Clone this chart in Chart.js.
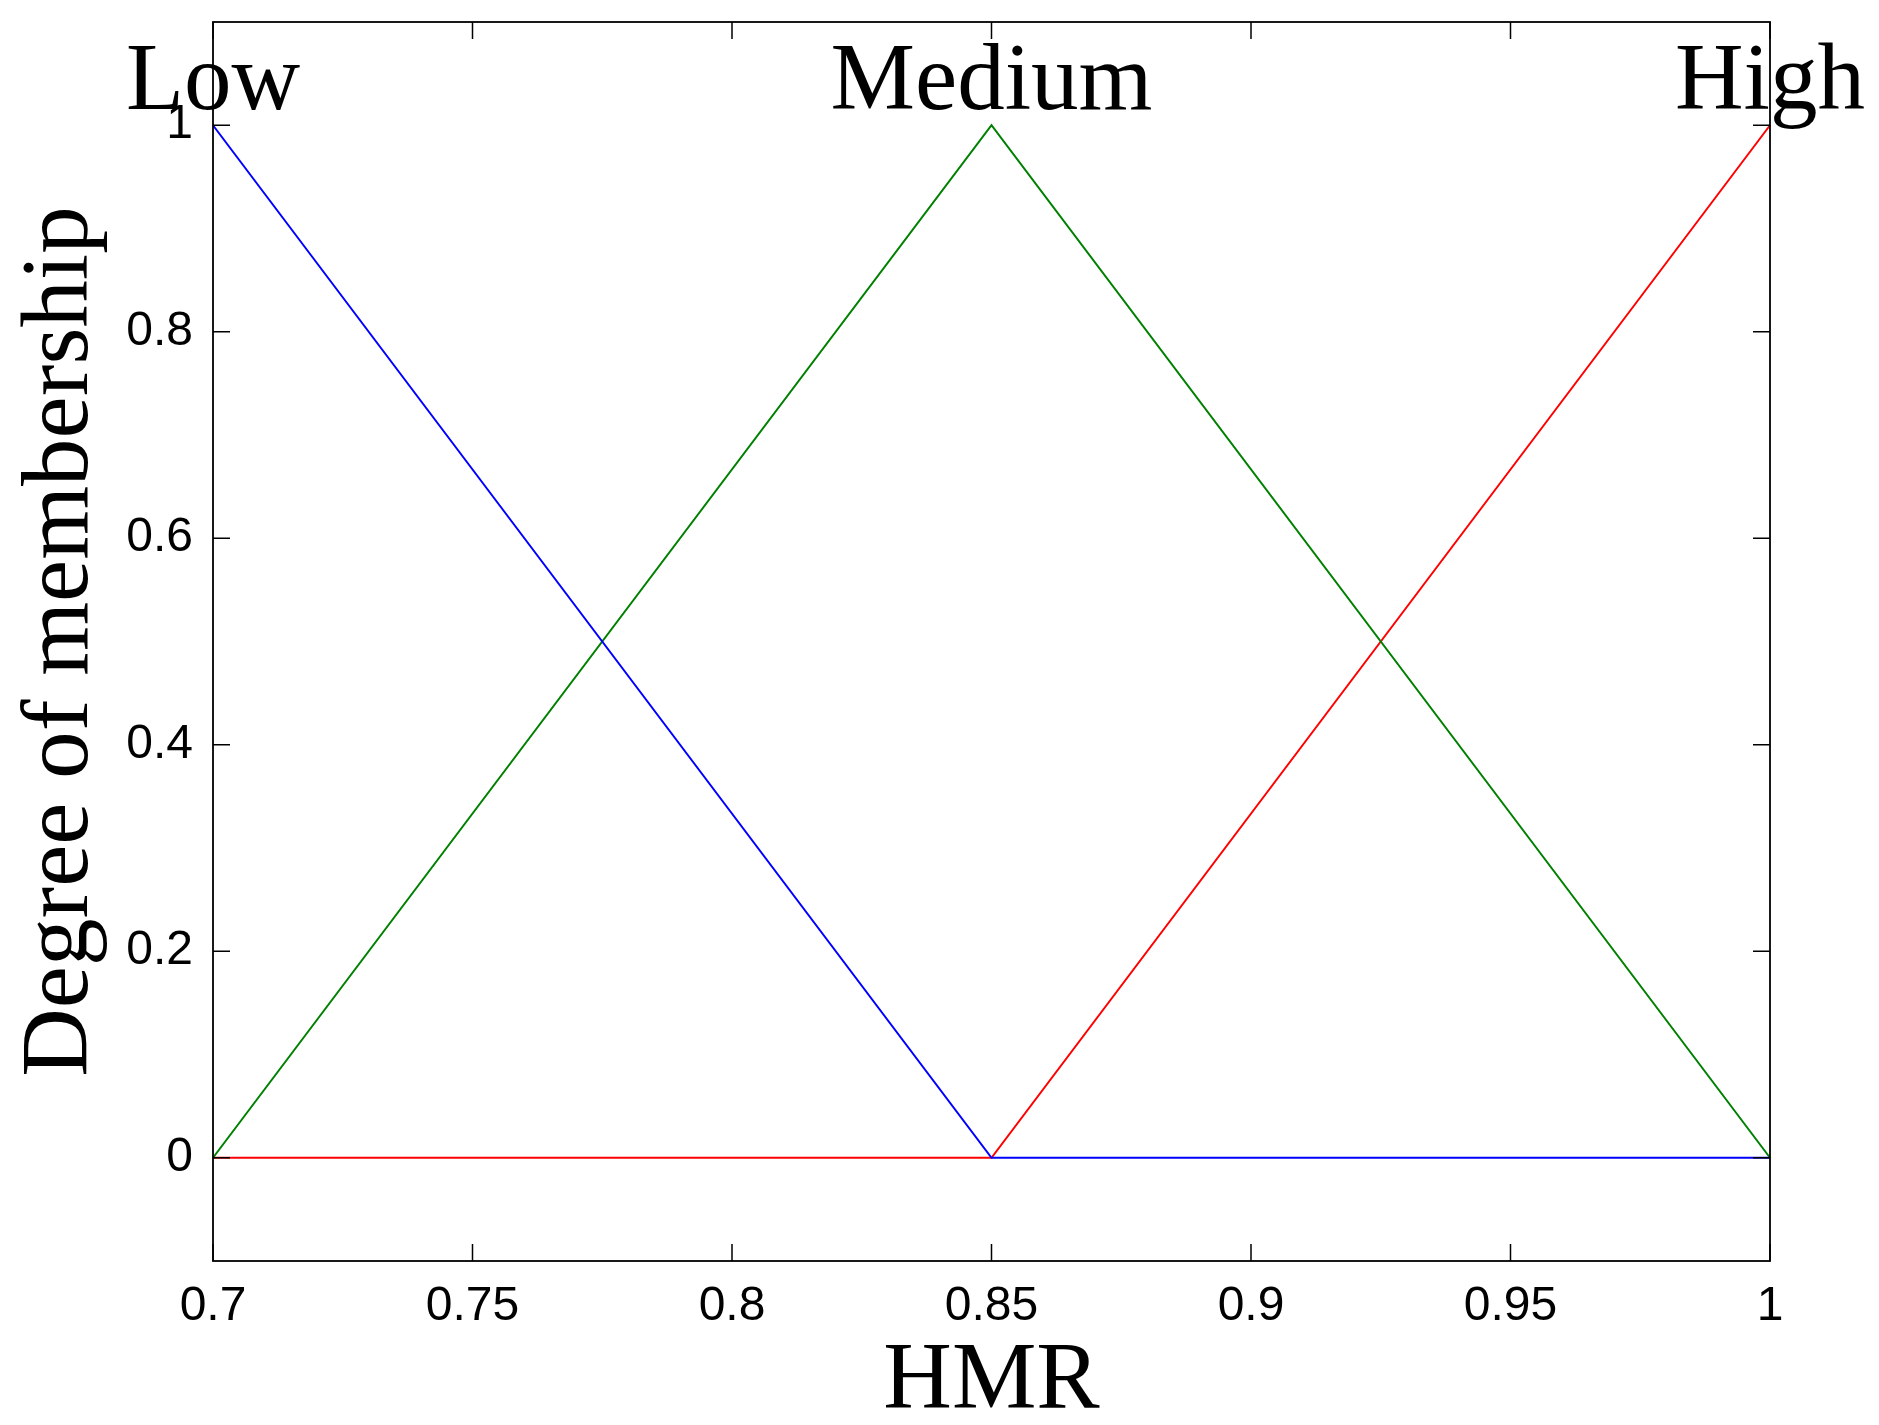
<!DOCTYPE html>
<html>
<head>
<meta charset="utf-8">
<script src="https://cdn.jsdelivr.net/npm/chart.js@4"></script>
<style>
  html, body { margin: 0; padding: 0; background: #fff; }
  #wrap { width: 1879px; height: 1425px; position: relative; }
</style>
</head>
<body>
<div id="wrap"><canvas id="mfChart"></canvas></div>
<script>
// membership function vertices (HMR input)
const xPoints = [0.7, 0.85, 1];
const lowMf = [1, 0, 0];
const mediumMf = [0, 1, 0];
const highMf = [0, 0, 1];
const mfNames = ['Low', 'Medium', 'High'];
const mfColors = ['#0000ff', '#008000', '#ff0000'];

const xTicks = [0.7, 0.75, 0.8, 0.85, 0.9, 0.95, 1];
const yTicks = [0, 0.2, 0.4, 0.6, 0.8, 1];

const serif = '"Liberation Serif", "DejaVu Serif", serif';
const sans = '"Liberation Sans", Arial, sans-serif';
const TICK_LEN = 17;

function toPts(ys) { return xPoints.map((x, i) => ({ x: x, y: ys[i] })); }

// box, inward ticks on all four sides, and the MF names
const frameAndLabels = {
    id: 'frameAndLabels',
    afterDatasetsDraw(chart) {
        const { ctx, chartArea: a, scales: { x, y } } = chart;
        ctx.save();
        ctx.strokeStyle = '#000';
        ctx.lineWidth = 1.8;
        ctx.strokeRect(a.left, a.top, a.right - a.left, a.bottom - a.top);
        ctx.lineWidth = 1.5;
        ctx.beginPath();
        xTicks.forEach(v => {
            const px = x.getPixelForValue(v);
            ctx.moveTo(px, a.bottom); ctx.lineTo(px, a.bottom - TICK_LEN);
            ctx.moveTo(px, a.top); ctx.lineTo(px, a.top + TICK_LEN);
        });
        yTicks.forEach(v => {
            const py = y.getPixelForValue(v);
            ctx.moveTo(a.left, py); ctx.lineTo(a.left + TICK_LEN, py);
            ctx.moveTo(a.right, py); ctx.lineTo(a.right - TICK_LEN, py);
        });
        ctx.stroke();

        ctx.fillStyle = '#000';
        ctx.font = '95px ' + serif;
        ctx.textAlign = 'center';
        ctx.textBaseline = 'alphabetic';
        chart.data.datasets.forEach((ds, i) => {
            const peak = ds.data.find(p => p.y === 1);
            ctx.fillText(mfNames[i], x.getPixelForValue(peak.x), y.getPixelForValue(1) - 16);
        });
        ctx.restore();
    }
};

new Chart(document.getElementById('mfChart'), {
    type: 'line',
    data: {
        datasets: [lowMf, mediumMf, highMf].map((ys, i) => ({
            label: mfNames[i],
            data: toPts(ys),
            borderColor: mfColors[i],
            borderWidth: 2,
            pointRadius: 0,
            tension: 0,
            fill: false,
            clip: false
        }))
    },
    options: {
        responsive: true, maintainAspectRatio: false, devicePixelRatio: 1, animation: false,
        layout: { padding: { top: 22, right: 109, left: 0, bottom: 0 } },
        plugins: { legend: { display: false }, tooltip: { enabled: false } },
        scales: {
            x: {
                type: 'linear', min: 0.7, max: 1,
                afterBuildTicks: s => { s.ticks = xTicks.map(v => ({ value: v })); },
                afterFit: s => { s.height = 164; s.paddingLeft = 0; s.paddingRight = 0; },
                grid: { display: false }, border: { display: false },
                ticks: { color: '#000', padding: 9, font: { family: sans, size: 48 }, callback: v => String(v) },
                title: { display: true, text: 'HMR', color: '#000', font: { family: serif, size: 95, lineHeight: 1 }, padding: { top: 0, bottom: -6 } }
            },
            y: {
                type: 'linear', min: -0.1, max: 1.1,
                afterBuildTicks: s => { s.ticks = yTicks.map(v => ({ value: v })); },
                afterFit: s => { s.width = 213; s.paddingTop = 0; s.paddingBottom = 0; },
                grid: { display: false }, border: { display: false },
                ticks: { color: '#000', padding: 12, font: { family: sans, size: 48 }, callback: v => String(v) },
                title: { display: true, text: 'Degree of membership', color: '#000', font: { family: serif, size: 95, lineHeight: 1 }, padding: { top: 15, bottom: 0 } }
            }
        }
    },
    plugins: [frameAndLabels]
});
</script>
</body>
</html>
